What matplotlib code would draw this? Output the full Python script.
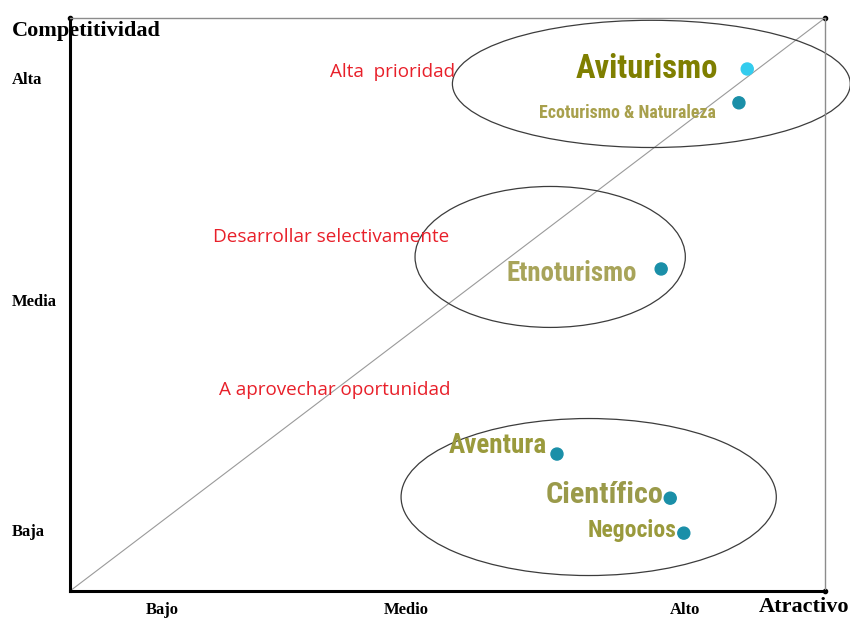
import matplotlib
matplotlib.use("Agg")
import matplotlib.pyplot as plt
from matplotlib.patches import Ellipse

# products and their position (attractiveness vs competitiveness)
productos = ["Aviturismo", "Ecoturismo & Naturaleza", "Etnoturismo",
             "Aventura", "Científico", "Negocios"]
atractivo = [0.897, 0.886, 0.783, 0.645, 0.795, 0.813]
competitividad = [0.911, 0.852, 0.562, 0.239, 0.162, 0.101]

# groups: label, ellipse centre x/y, width, height
grupos = ["Alta  prioridad", "Desarrollar selectivamente", "A aprovechar oportunidad"]
grupo_cx = [0.770, 0.636, 0.687]
grupo_cy = [0.885, 0.583, 0.164]
grupo_w = [0.527, 0.358, 0.497]
grupo_h = [0.222, 0.246, 0.274]
grupo_lx = [0.345, 0.190, 0.197]
grupo_ly = [0.905, 0.618, 0.351]

x_ticks = [0.122, 0.446, 0.815]
x_labels = ["Bajo", "Medio", "Alto"]
y_ticks = [0.895, 0.508, 0.106]
y_labels = ["Alta", "Media", "Baja"]

fig = plt.figure(figsize=(8.5, 6.21), dpi=100)
ax = fig.add_axes([70 / 850, 30 / 621, 755 / 850, 573 / 621])
ax.set_xlim(0, 1)
ax.set_ylim(0, 1)

for s in ["top", "right"]:
    ax.spines[s].set_color("#8c8c8c")
    ax.spines[s].set_linewidth(1.0)
for s in ["left", "bottom"]:
    ax.spines[s].set_color("black")
    ax.spines[s].set_linewidth(2.2)

serif = ["Liberation Serif", "DejaVu Serif"]
narrow = ["Roboto Condensed", "Liberation Sans", "DejaVu Sans"]

ax.set_xticks(x_ticks, x_labels)
ax.set_yticks(y_ticks, y_labels)
ax.tick_params(length=0)
ax.tick_params(axis="y", pad=42)
ax.tick_params(axis="x", pad=8)
for t in ax.get_yticklabels() + ax.get_xticklabels():
    t.set_fontfamily(serif)
    t.set_fontweight("bold")
    t.set_fontsize(12)
for t in ax.get_yticklabels():
    t.set_horizontalalignment("left")

# axis titles (y title sits under the axis line, like the original)
ax.text(12 / 850, 1 - 31 / 621, "Competitividad", family=serif, weight="bold",
        fontsize=16, va="center", ha="left", transform=fig.transFigure,
        zorder=1, clip_on=False)
fig.text(849 / 850, 1 - 607 / 621, "Atractivo", family=serif, weight="bold",
         fontsize=16, va="center", ha="right")

# diagonal
ax.plot([0, 1], [0, 1], color="#9a9a9a", lw=0.8, zorder=1)
ax.plot([1], [1], marker="o", color="black", markersize=3, clip_on=False)
ax.plot([1], [0], marker="o", color="black", markersize=3, clip_on=False)
ax.plot([0], [1], marker="o", color="black", markersize=3, clip_on=False)

for lab, cx, cy, w, h, lx, ly in zip(grupos, grupo_cx, grupo_cy, grupo_w, grupo_h,
                                      grupo_lx, grupo_ly):
    ax.add_patch(Ellipse((cx, cy), w, h, fill=False, edgecolor="#3c3c3c",
                         lw=0.9, clip_on=False, zorder=2))
    ax.text(lx, ly, lab, color="#e8202a", fontsize=13.6, family=["Open Sans", "DejaVu Sans"],
            va="center", ha="left", zorder=3)

point_colors = ["#33ccee", "#1a8fa8", "#1a8fa8", "#1a8fa8", "#1a8fa8", "#1a8fa8"]
ax.scatter(atractivo, competitividad, s=75, c=point_colors, zorder=4)

# label styles: offset (px), font size, colour
offsets = [(-29, 0), (-23, -10), (-24, -5), (-10, 9), (-7, 3), (-7, 3)]
sizes = [23.5, 12.9, 19.4, 19.5, 21.8, 17]
text_colors = ["#7f7f00", "#a8a04c", "#a8a45a", "#9a9a3c", "#9a9a4a", "#9a9a3c"]
for name, x, y, off, fs, col in zip(productos, atractivo, competitividad,
                                    offsets, sizes, text_colors):
    ax.annotate(name, (x, y), xytext=(off[0] * 0.72, off[1] * 0.72),
                textcoords="offset points", ha="right", va="center",
                fontsize=fs, color=col, weight="bold", family=narrow, zorder=5)

fig.savefig("out.png", dpi=100)
